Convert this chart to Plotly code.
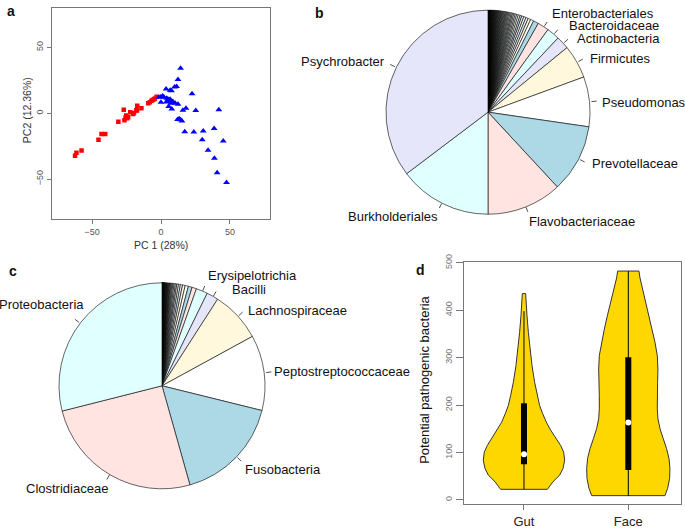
import math
import plotly.graph_objects as go

W, H = 685, 529
FONT = "Liberation Sans, Arial, sans-serif"

# ---------------- Panel a: PCA ----------------
red_pc1 = [-62.3, -61.3, -57.6, -45.3, -43.1, -40.4, -30.9, -27.0, -26.5, -25.7, -25.2, -24.5, -23.8, -22.3,
           -20.3, -19.6, -17.9, -17.2, -17.4, -14.2, -9.3, -8.1, -6.9, -6.1, -5.1, -4.4, -3.2]
red_pc2 = [-32.3, -30.0, -28.3, -20.2, -15.8, -15.8, -6.4, 2.7, -5.4, -3.4, -1.7, -3.9, -3.0, 0.7,
           -0.5, 0.2, 2.2, 5.7, 2.0, 3.7, 7.6, 8.4, 9.4, 10.1, 10.6, 11.1, 12.6]
blue_pc1 = [14.2, 12.3, 11.3, 9.8, 3.7, 6.6, 7.6, 22.5, -1.5, 0.0, 1.2, 2.2, 4.2, 5.1, 6.1, 7.1, 8.6, 10.3,
            12.3, 0.0, 3.9, 6.6, 7.8, 5.6, 7.1, 15.9, 18.1, 25.2, 41.9, 12.0, 13.2, 14.2, 15.2, 17.2, 23.8,
            30.6, 38.5, 29.9, 45.1, 34.1, 38.7, 40.7, 47.5]
blue_pc2 = [34.2, 25.6, 20.4, 20.0, 18.5, 17.5, 17.0, 14.8, 12.1, 12.6, 13.1, 12.1, 11.3, 10.6, 10.1, 9.4,
            8.9, 7.6, 6.9, 8.4, 8.6, 10.6, 3.2, 5.2, 7.6, 2.2, 3.7, 2.0, 2.7, -4.7, -4.2, -4.9, -5.9, -14.0,
            -14.3, -13.5, -11.6, -20.2, -21.2, -28.1, -34.2, -45.3, -52.7]
pca_ticks = [-50, 0, 50]

# ---------------- Panel b: pie (clockwise from 12 o'clock) ----------------
b_minor = [0.01, 0.01, 0.01, 0.01, 0.01, 0.01, 0.01, 0.01, 0.01, 0.01, 0.01, 0.01, 0.01, 0.01, 0.01,
           0.02, 0.02, 0.02, 0.02, 0.02, 0.02, 0.02, 0.02, 0.02, 0.02,
           0.03, 0.03, 0.03, 0.03, 0.03, 0.03, 0.03, 0.03,
           0.04, 0.04, 0.04, 0.04, 0.04, 0.04,
           0.05, 0.05, 0.05, 0.05, 0.06, 0.06, 0.06, 0.07, 0.07, 0.07, 0.08, 0.08, 0.09, 0.09,
           0.10, 0.10, 0.11, 0.11, 0.12, 0.12, 0.13, 0.14, 0.14, 0.15, 0.16, 0.17, 0.18, 0.19, 0.20,
           0.21, 0.22, 0.24, 0.26, 0.28, 0.30, 0.33, 0.35, 0.38, 0.42, 0.50, 0.83]
b_names = ["Enterobacteriales", "Bacteroidaceae", "Actinobacteria", "Firmicutes", "Pseudomonas",
           "Prevotellaceae", "Flavobacteriaceae", "Burkholderiales", "Psychrobacter"]
b_values = [1.8, 2.05, 2.05, 5.3, 7.9, 10.8, 11.9, 14.7, 35.3]

# ---------------- Panel c: pie ----------------
c_minor = [0.01, 0.01, 0.01, 0.01, 0.01, 0.01, 0.01, 0.01, 0.01, 0.01, 0.01, 0.01,
           0.02, 0.02, 0.02, 0.02, 0.02, 0.02, 0.02, 0.02,
           0.03, 0.03, 0.03, 0.03, 0.03, 0.04, 0.04, 0.04, 0.04, 0.05, 0.05, 0.05,
           0.06, 0.06, 0.07, 0.07, 0.08, 0.09, 0.10, 0.12, 0.14, 0.16, 0.18, 0.20, 0.23, 0.26,
           0.30, 0.34, 0.42, 0.50, 0.60, 0.70]
c_names = ["Erysipelotrichia", "Bacilli", "Lachnospiraceae", "Peptostreptococcaceae", "Fusobacteria",
           "Clostridiaceae", "Proteobacteria"]
c_values = [1.8, 1.85, 7.95, 11.8, 16.75, 25.4, 28.9]

# ---------------- Panel d: violins ----------------
groups = ["Gut", "Face"]
gut_y = [22.4, 38.5, 52.4, 66.4, 83.9, 101, 115, 129, 147, 164, 182, 199, 220, 248, 283, 318, 353, 388, 416, 435]
gut_halfwidth = [0.224, 0.278, 0.342, 0.374, 0.39, 0.38, 0.351, 0.31, 0.256, 0.214, 0.179, 0.15, 0.128,
                 0.102, 0.077, 0.058, 0.042, 0.029, 0.019, 0.016]
face_y = [9.1, 24.5, 45.5, 66.4, 87.4, 108, 129, 150, 171, 192, 220, 248, 276, 304, 332, 360, 388, 416,
          444, 468, 482.5]
face_halfwidth = [0.351, 0.377, 0.396, 0.399, 0.39, 0.367, 0.335, 0.304, 0.284, 0.278, 0.278, 0.281,
                  0.284, 0.278, 0.256, 0.23, 0.201, 0.169, 0.137, 0.112, 0.102]
# min, Q1, median, Q3, upper whisker
gut_stats = [22.4, 75, 96.5, 204, 398]
face_stats = [9.1, 63, 163, 301, 482.5]
d_ticks = [0, 100, 200, 300, 400, 500]

PAL = ['#FFFFFF', '#ADD8E6', '#FFE4E1', '#E0FFFF', '#E6E6FA', '#FFF8DC']

# The captured picture maps page y -> 7.3 + 0.986*y; positions below are given in picture pixels.
Y_OFF, Y_SCALE = 7.3, 0.986


def px(x):
    return x / W


def page_y(y):
    return max(0.0, (y - Y_OFF) / Y_SCALE)


def py_page(y):
    return 1 - y / H


def py(y):
    return py_page(page_y(y))


def pie_colors(n, last_color):
    off = (PAL.index(last_color) - (n - 1)) % 6
    return [PAL[(i + off) % 6] for i in range(n)]


fig = go.Figure()

# Panel a
fig.add_trace(go.Scatter(x=red_pc1, y=red_pc2, mode='markers', xaxis='x', yaxis='y',
                         marker=dict(symbol='square', size=4.5, color='#FF0000'), showlegend=False))
fig.add_trace(go.Scatter(x=blue_pc1, y=blue_pc2, mode='markers', xaxis='x', yaxis='y',
                         marker=dict(symbol='triangle-up', size=6, color='#0000FF'), showlegend=False))

# Pies
shapes = []
annotations = []


def add_pie(minor, names, values, last_color, cx, cy_pic, r):
    cy = page_y(cy_pic)
    vals = minor + values
    labs = ["other %d" % (i + 1) for i in range(len(minor))] + names
    fig.add_trace(go.Pie(values=vals, labels=labs, sort=False, direction='clockwise', rotation=0,
                         textinfo='none', showlegend=False, hoverinfo='label+percent',
                         domain=dict(x=[px(cx - r), px(cx + r)], y=[py_page(cy + r), py_page(cy - r)]),
                         marker=dict(colors=pie_colors(len(vals), last_color),
                                     line=dict(color='black', width=0.6))))
    total = float(sum(vals))
    cum = sum(minor)
    for v in values:
        mid = 2 * math.pi * (cum + v / 2) / total
        x0, y0 = cx + r * math.sin(mid), cy - r * math.cos(mid)
        x1, y1 = cx + 1.05 * r * math.sin(mid), cy - 1.05 * r * math.cos(mid)
        shapes.append(dict(type='line', xref='paper', yref='paper', x0=px(x0), y0=py_page(y0),
                           x1=px(x1), y1=py_page(y1), line=dict(color='#222', width=0.8)))
        cum += v


add_pie(b_minor, b_names, b_values, '#E6E6FA', 488, 112, 104)
add_pie(c_minor, c_names, c_values, '#E0FFFF', 162, 387, 105)

# pie label positions (picture pixel anchor, side)
b_label_pos = {"Psychrobacter": (387, 61, 'right'), "Burkholderiales": (440, 217, 'right'),
               "Flavobacteriaceae": (527, 222, 'left'), "Prevotellaceae": (590, 164, 'left'),
               "Pseudomonas": (600, 102, 'left'), "Firmicutes": (588, 58, 'left'),
               "Actinobacteria": (575, 38, 'left'), "Bacteroidaceae": (567, 25, 'left'),
               "Enterobacteriales": (550, 13, 'left')}
c_label_pos = {"Proteobacteria": (86, 305, 'right'), "Clostridiaceae": (110, 490, 'right'),
               "Fusobacteria": (243, 471, 'left'), "Peptostreptococcaceae": (272, 373, 'left'),
               "Lachnospiraceae": (246, 311, 'left'), "Bacilli": (230, 290, 'left'),
               "Erysipelotrichia": (206, 276, 'left')}
for d in (b_label_pos, c_label_pos):
    for name, (x, y, side) in d.items():
        annotations.append(dict(text=name, x=px(x), y=py(y), xref='paper', yref='paper',
                                xanchor=side, yanchor='middle', showarrow=False,
                                font=dict(family=FONT, size=13, color='#111')))

# Panel d violins
for i, (vy, hw, st) in enumerate([(gut_y, gut_halfwidth, gut_stats), (face_y, face_halfwidth, face_stats)]):
    c = i + 1
    xs = [c - w for w in hw] + [c + w for w in reversed(hw)] + [c - hw[0]]
    ys = list(vy) + list(reversed(vy)) + [vy[0]]
    fig.add_trace(go.Scatter(x=xs, y=ys, mode='lines', fill='toself', fillcolor='#FFD700',
                             line=dict(color='#333', width=1), xaxis='x2', yaxis='y2',
                             showlegend=False, hoverinfo='skip'))
    fig.add_trace(go.Scatter(x=[c, c], y=[st[0], st[4]], mode='lines', line=dict(color='black', width=1),
                             xaxis='x2', yaxis='y2', showlegend=False, hoverinfo='skip'))
    fig.add_trace(go.Scatter(x=[c, c], y=[st[1], st[3]], mode='lines', line=dict(color='black', width=6),
                             xaxis='x2', yaxis='y2', showlegend=False, hoverinfo='skip'))
    fig.add_trace(go.Scatter(x=[c], y=[st[2]], mode='markers', marker=dict(color='white', size=6),
                             xaxis='x2', yaxis='y2', showlegend=False))

axis_common = dict(showgrid=False, zeroline=False, showline=True, mirror=True, linecolor='#777',
                   linewidth=1, ticks='outside', tickcolor='#777')

# Axis titles and panel letters
for text, x, y, size, angle, color, bold in [
        ("PC 1 (28%)", 161, 245, 10.5, 0, '#333', False),
        ("PC2 (12.36%)", 27, 110, 10.5, -90, '#333', False),
        ("Potential pathogenic bacteria", 425, 381, 13, -90, '#111', False),
        ("a", 11, 10, 14, 0, '#111', True), ("b", 319, 12, 14, 0, '#111', True),
        ("c", 13, 272, 14, 0, '#111', True), ("d", 420, 271, 14, 0, '#111', True)]:
    annotations.append(dict(text=("<b>%s</b>" % text) if bold else text, x=px(x), y=py(y), xref='paper',
                            yref='paper', xanchor='center', yanchor='middle', showarrow=False,
                            textangle=angle, font=dict(family=FONT, size=size, color=color)))

fig.update_layout(
    width=W, height=H, margin=dict(l=0, r=0, t=0, b=0),
    paper_bgcolor='white', plot_bgcolor='white', font=dict(family=FONT),
    xaxis=dict(domain=[px(52), px(270)], range=[-79, 79], tickvals=pca_ticks, ticklen=4,
               tickfont=dict(size=9, color='#555'), anchor='y', **axis_common),
    yaxis=dict(domain=[py(219.5), min(1.0, py(2.7) - 0.5 / H)], range=[-80.5, 79.6], tickvals=pca_ticks,
               ticklen=4, tickangle=-90, tickfont=dict(size=9, color='#555'), anchor='x', **axis_common),
    xaxis2=dict(domain=[px(464), px(681.3)], range=[0.425, 2.508], tickvals=[1, 2], ticktext=groups,
                ticklen=5, tickfont=dict(size=13, color='#222'), anchor='y2', **axis_common),
    yaxis2=dict(domain=[py(506), py(262.7)], range=[-9, 501.3], tickvals=d_ticks, ticklen=7,
                tickangle=-90, tickfont=dict(size=9, color='#777'), anchor='x2', **axis_common),
    shapes=shapes, annotations=annotations,
)

fig.write_html("out.html", config={'displayModeBar': False},
               post_script="var d=document.getElementById('{plot_id}');"
                           "d.style.position='fixed';d.style.top='0px';d.style.left='0px';"
                           "document.body.style.margin='0';document.body.style.padding='0';"
                           "document.documentElement.style.overflow='hidden';")
